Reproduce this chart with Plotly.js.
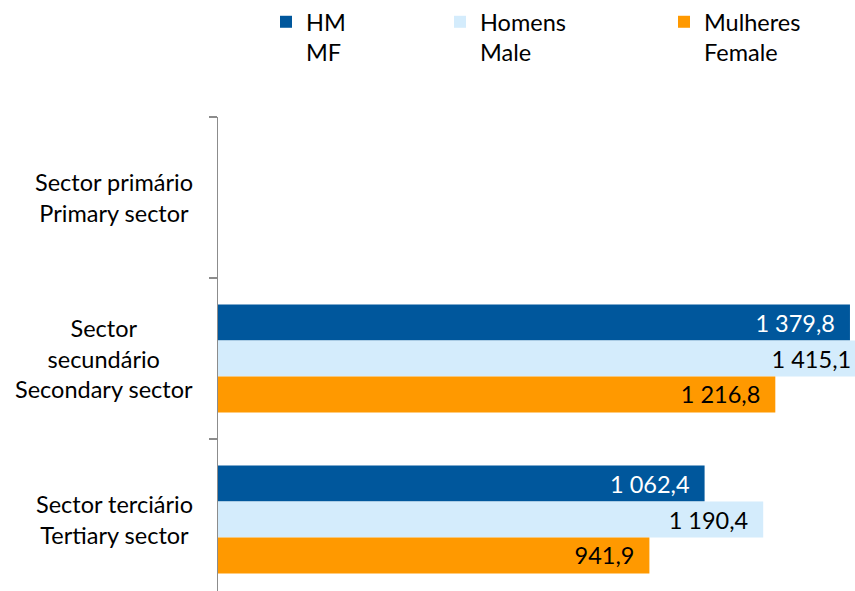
<!DOCTYPE html>
<html>
<head>
<meta charset="utf-8">
<script src="https://cdn.plot.ly/plotly-3.0.1.min.js"></script>
<style>
html, body { margin: 0; padding: 0; overflow: hidden; background: #fff; }
#chart { width: 855px; height: 608px; }
</style>
</head>
<body>
<div id="chart"></div>
<script>
var categories = ['Sector primário<br>Primary sector', 'Sector<br>secundário<br>Secondary sector', 'Sector terciário<br>Tertiary sector'];
var seriesNames = ['HM<br>MF', 'Homens<br>Male', 'Mulheres<br>Female'];
var hmValues = [null, 1379.8, 1062.4];
var homensValues = [null, 1415.1, 1190.4];
var mulheresValues = [null, 1216.8, 941.9];

var W = 855, H = 608;
var FONT = 'Lato, "Open Sans", sans-serif';
var FS = 23.5;
var colors = ['#00579C', '#D4ECFC', '#FF9900'];
var textColors = ['#FFFFFF', '#000000', '#000000'];
var seriesValues = [hmValues, homensValues, mulheresValues];
var legendIds = ['legend', 'legend2', 'legend3'];
var legendLeft = [266, 440, 664];

var pad = '\u00a0\u00a0';
var traces = seriesValues.map(function (vals, i) {
  return {
    type: 'bar',
    orientation: 'h',
    name: seriesNames[i],
    y: categories,
    x: vals,
    legend: legendIds[i],
    marker: { color: colors[i], line: { width: 0 } },
    texttemplate: '%{x:,.1f}' + pad,
    textposition: 'inside',
    insidetextanchor: 'end',
    textangle: 0,
    insidetextfont: { family: FONT, size: FS, color: textColors[i] },
    hoverinfo: 'x+name'
  };
});

var layout = {
  width: W,
  height: H,
  margin: { l: 218, r: 0, t: 117, b: 8, autoexpand: false },
  paper_bgcolor: '#ffffff',
  plot_bgcolor: '#ffffff',
  separators: ', ',
  barmode: 'group',
  bargap: 0.33,
  bargroupgap: 0,
  showlegend: true,
  font: { family: FONT, size: FS, color: '#000000' },
  xaxis: {
    range: [0, 1390.8],
    showgrid: false,
    zeroline: false,
    showticklabels: false,
    showline: false,
    ticks: ''
  },
  yaxis: {
    type: 'category',
    range: [2.5, -0.5],
    showgrid: false,
    zeroline: false,
    showticklabels: false,
    showline: true,
    linecolor: '#8C8C8C',
    linewidth: 1.5,
    ticks: 'outside',
    tickson: 'boundaries',
    ticklen: 8,
    tickwidth: 1.5,
    tickcolor: '#8C8C8C'
  },
  annotations: categories.map(function (c) {
    return {
      xref: 'paper', yref: 'y',
      x: 0, y: c,
      xanchor: 'right', yanchor: 'middle',
      xshift: -23,
      align: 'center',
      showarrow: false,
      text: c,
      font: { family: FONT, size: FS, color: '#000000' }
    };
  })
};

legendIds.forEach(function (id, i) {
  layout[id] = {
    xref: 'container', yref: 'container',
    x: legendLeft[i] / W, y: 1 + 1 / H,
    xanchor: 'left', yanchor: 'top',
    orientation: 'v',
    valign: 'top',
    bgcolor: 'rgba(0,0,0,0)',
    borderwidth: 0,
    font: { family: FONT, size: FS, color: '#000000' }
  };
});

Plotly.newPlot('chart', traces, layout, { displayModeBar: false, staticPlot: true });
</script>
</body>
</html>
